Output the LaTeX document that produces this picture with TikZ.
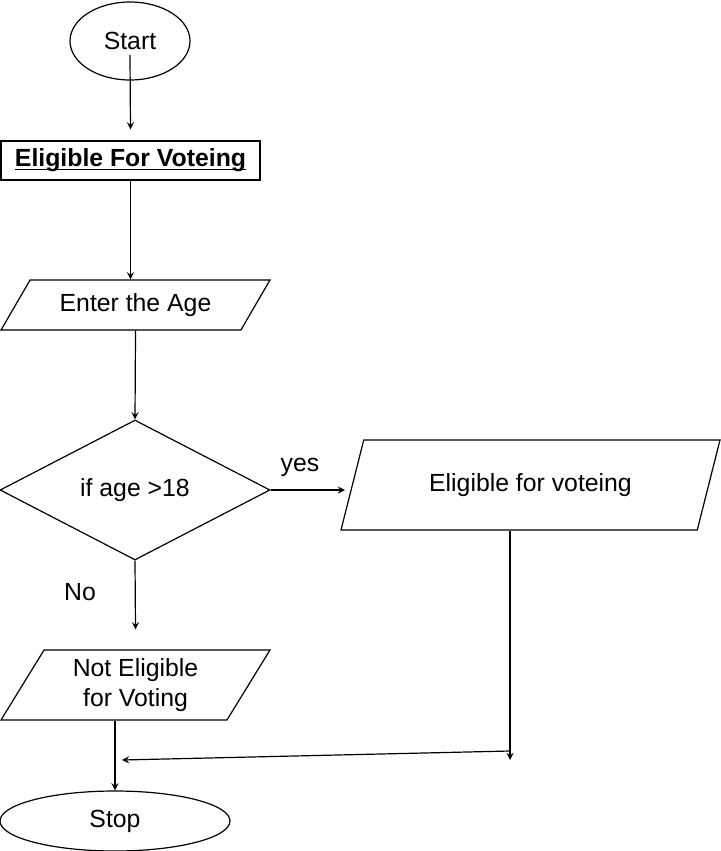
\documentclass[tikz,border=0pt]{standalone}
\usepackage{fontspec}
\setmainfont{Liberation Sans}
\usetikzlibrary{arrows}
\usetikzlibrary{shapes.geometric}
\tikzset{
   every path/.style={>=stealth},
   flow/.style={->,line width=0.6pt},
   terminal/.style={ellipse,draw,line width=0.6pt,inner sep=0pt},
   procbox/.style={rectangle,draw,line width=0.6pt,inner sep=0pt},
   io/.style={trapezium,draw,line width=0.6pt,trapezium stretches body,inner sep=1pt,align=center},
   decision/.style={diamond,draw,line width=0.6pt,inner sep=0pt},
}
\newcommand{\ulbold}[1]{\textbf{\underline{\smash{#1}}\vphantom{#1}}}

\begin{document}
\begin{tikzpicture}[x=0.5pt,y=-0.5pt,font=\fontsize{12.4}{15}\selectfont]
        \useasboundingbox (0,0) rectangle (721,851);

        \node[terminal,minimum width=60pt,minimum height=39pt] (start) at (130,41) {Start};
        \node[procbox,minimum width=129.5pt,minimum height=19.5pt] (title) at (130.5,160.5) {\ulbold{Eligible For Voteing}};
        \node[io,trapezium left angle=43,trapezium right angle=137,minimum width=134.5pt,minimum height=25pt] (age) at (135.5,305) {Enter the Age};
        \node[decision,minimum width=135pt,minimum height=70pt] (check) at (135,490) {if age >18};
        \node[io,trapezium left angle=50,trapezium right angle=130,minimum width=189.5pt,minimum height=45pt] (yesout) at (530.5,485) {Eligible for voteing};
        \node[io,trapezium left angle=53,trapezium right angle=127,minimum width=134.5pt,minimum height=35pt] (noout) at (135.5,685) {Not Eligible\\for Voting};
        \node[terminal,minimum width=115pt,minimum height=30pt] (stop) at (115,821) {Stop};

        \node (yeslbl) at (300,467) {yes};
        \node (nolbl) at (80,592) {No};

        \coordinate (yesend) at (345,490);
        \coordinate (rdown) at (510,760);
        \coordinate (mergeR) at (510,751);
        \coordinate (mergeL) at (122,760);

        \draw[flow] ([yshift=-7pt]start.center) -- ([yshift=5.5pt]title.north);
        \draw[flow] (title.south) -- (title.south |- age.north);
        \draw[flow] (age.south) -- (check.north);
        \draw[flow] (check.east) -- (yesend);
        \draw[flow] (check.south) -- ([yshift=10pt]noout.north);
        \draw[flow] (rdown |- yesout.south) -- (rdown);
        \draw[flow] (mergeR) -- (mergeL);
        \draw[flow] (stop.north |- noout.south) -- (stop.north);

      \end{tikzpicture}
\end{document}
